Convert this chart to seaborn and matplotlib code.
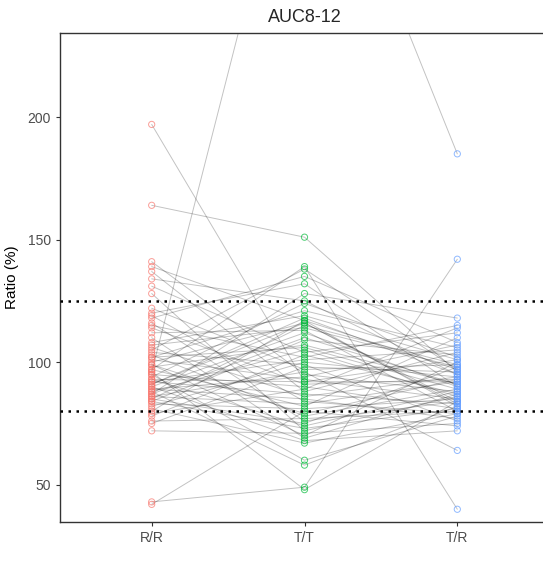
import numpy as np
import pandas as pd
import matplotlib
matplotlib.use("Agg")
import matplotlib.pyplot as plt
import seaborn as sns

# conditions on x axis
conditions = ["R/R", "T/T", "T/R"]
palette = ["#F8766D", "#00BA38", "#619CFF"]

# per-subject ratio (%) in each condition
rr = [197, 164, 96, 43, 42, 141, 139, 137, 134, 131, 128, 122, 120, 119, 118, 116, 115,
      114, 112, 110, 108, 106, 105, 104, 103, 102, 101, 100, 99, 98, 97, 97, 107, 95, 95,
      94, 93, 92, 92, 91, 90, 90, 89, 88, 88, 87, 86, 86, 85, 84, 84, 83, 82, 81, 80, 79,
      78, 76, 75, 72, 96, 93, 89, 99, 102, 85, 91, 87]
tt = [92, 151, 340, 49, 80, 95, 117, 88, 125, 104, 72, 97, 132, 84, 135, 76, 102,
      91, 113, 69, 119, 86, 138, 99, 78, 121, 93, 116, 70, 107, 82, 139, 114, 90, 60,
      124, 74, 101, 87, 118, 68, 112, 94, 105, 58, 128, 83, 96, 115, 73, 109, 81, 100, 67, 117, 89,
      103, 77, 98, 71, 48, 92, 85, 79, 106, 75, 116, 110]
tr = [92, 96, 185, 142, 74, 88, 82, 104, 95, 112, 86, 99, 90, 79, 108, 84, 115,
      93, 80, 87, 101, 94, 97, 76, 89, 106, 85, 83, 100, 91, 110, 40, 98, 81, 78,
      102, 88, 105, 83, 95, 72, 90, 107, 86, 82, 118, 92, 64, 99, 81, 103, 85, 94, 79, 97, 114,
      87, 80, 96, 75, 84, 101, 77, 93, 89, 98, 84, 91]

subject = np.arange(len(rr))
df = pd.DataFrame({
    "subject": np.tile(subject, 3),
    "cond": np.repeat(conditions, len(rr)),
    "ratio": rr + tt + tr,
})
df["x"] = df["cond"].map({c: i for i, c in enumerate(conditions)})

sns.set_style("white")
plt.rcParams["font.family"] = ["Liberation Sans", "DejaVu Sans"]

fig = plt.figure(figsize=(5.43, 5.61), dpi=100)
ax = fig.add_axes([60 / 543, 39 / 561, 489 / 543, 489 / 561])

# subject lines
sns.lineplot(data=df, x="x", y="ratio", units="subject", estimator=None,
             color="black", alpha=0.24, linewidth=0.7, ax=ax, legend=False)

# hollow points coloured by condition
sns.scatterplot(data=df, x="x", y="ratio", hue="cond", palette=palette,
                hue_order=conditions, s=20, ax=ax, legend=False, zorder=3)
pc = ax.collections[-1]
fc = pc.get_facecolors()
pc.set_edgecolors(fc)
pc.set_facecolors("none")
pc.set_linewidth(0.7)
pc.set_alpha(0.7)

# reference limits
for h in [80, 125]:
    ax.axhline(h, color="black", linestyle=(0, (1, 2.2)), linewidth=1.8, zorder=4)

ax.set_xlim(-0.6, 2.6)
ax.set_ylim(34.8, 234.3)
ax.set_xticks(range(3))
ax.set_xticklabels(conditions)
ax.set_yticks([50, 100, 150, 200])
ax.set_xlabel("")
ax.set_ylabel("Ratio (%)", fontsize=11, color="black", labelpad=6)
ax.set_title("AUC8-12", fontsize=13, pad=8)
ax.tick_params(axis="both", labelsize=10, labelcolor="#4d4d4d", length=3,
               color="#333333", direction="out", bottom=True, left=True)
for s in ax.spines.values():
    s.set_visible(True)
    s.set_color("#333333")
    s.set_linewidth(1.0)

fig.savefig("out.png", dpi=100)
